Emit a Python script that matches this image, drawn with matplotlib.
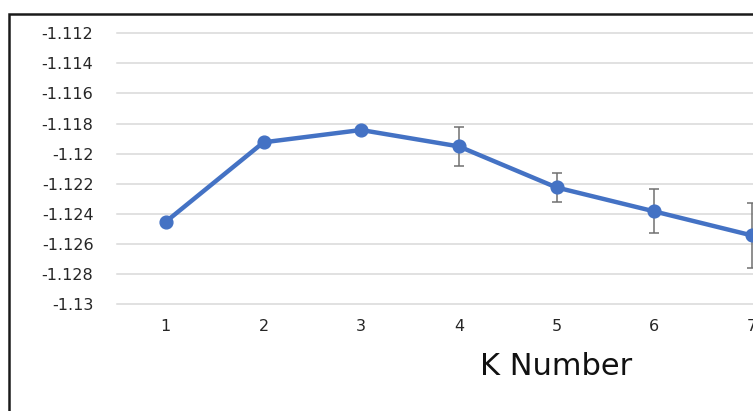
import matplotlib
matplotlib.use("Agg")
import matplotlib.pyplot as plt
from matplotlib.patches import Rectangle

# Data (chart is cropped on the right at K=7)
k_values = [1, 2, 3, 4, 5, 6, 7]
scores = [-1.12453, -1.11925, -1.11843, -1.11952, -1.12225, -1.12384, -1.12544]
errors = [0.0, 0.0, 0.0, 0.00131, 0.00098, 0.00146, 0.00214]
y_ticks = [-1.112, -1.114, -1.116, -1.118, -1.12, -1.122, -1.124, -1.126, -1.128, -1.13]
y_tick_labels = ["-1.112", "-1.114", "-1.116", "-1.118", "-1.12", "-1.122",
                 "-1.124", "-1.126", "-1.128", "-1.13"]
x_label = "K Number"
n_categories = 9  # full category axis of the original chart (1..9)

W, H = 753, 411
fig = plt.figure(figsize=(W / 100, H / 100), dpi=100)
fig.patch.set_facecolor("white")

# Plot area: extends beyond the right edge of the picture (cropped)
left_px, right_px = 117, 996
top_px, bottom_px = 33.3, 304
ax = fig.add_axes([left_px / W, (H - bottom_px) / H,
                   (right_px - left_px) / W, (bottom_px - top_px) / H])
ax.set_facecolor("white")

ax.errorbar(k_values, scores, yerr=errors, fmt="none", ecolor="#707070",
            elinewidth=1.1, capsize=3.3, capthick=1.1, zorder=2, clip_on=False)
ax.plot(k_values, scores, color="#4472C4", linewidth=3.2, marker="o",
        markersize=9.2, markerfacecolor="#4472C4", markeredgecolor="#4472C4",
        zorder=3, clip_on=False, solid_capstyle="round")

ax.set_xlim(0.5, n_categories + 0.5)
ax.set_ylim(-1.13, -1.112)
ax.set_yticks(y_ticks)
ax.set_yticklabels(y_tick_labels)
ax.set_xticks(list(range(1, n_categories + 1)))
ax.set_xticklabels([str(i) for i in range(1, n_categories + 1)])

ax.grid(axis="y", color="#D9D9D9", linewidth=1.1)
ax.grid(axis="x", visible=False)
for gl in ax.get_ygridlines():
    gl.set_clip_on(False)
ax.set_axisbelow(True)
for s in ax.spines.values():
    s.set_visible(False)

ax.tick_params(axis="y", length=0, pad=17, labelsize=11.5, labelcolor="#262626")
ax.tick_params(axis="x", length=0, pad=11, labelsize=11.5, labelcolor="#262626")
for lab in ax.get_xticklabels() + ax.get_yticklabels():
    lab.set_fontfamily("DejaVu Sans")

ax.set_xlabel(x_label, fontsize=22, color="#111111", labelpad=13,
              fontfamily="DejaVu Sans")

# Chart border (cropped on right and bottom)
border = Rectangle((9 / W, -0.1), 1.2, (H - 14) / H + 0.1, transform=fig.transFigure,
                   fill=False, edgecolor="#1a1a1a", linewidth=1.8, zorder=10)
fig.patches.append(border)

fig.savefig("out.png", dpi=100)
